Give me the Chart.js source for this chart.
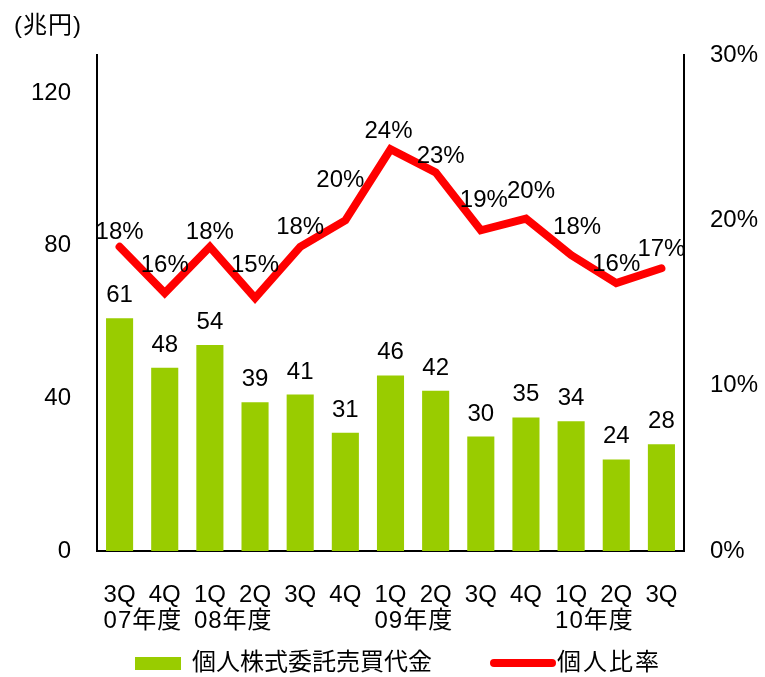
<!DOCTYPE html>
<html>
<head>
<meta charset="utf-8">
<script src="https://cdn.jsdelivr.net/npm/chart.js@4.4.1/dist/chart.umd.min.js"></script>
<style>
  html, body { margin: 0; padding: 0; background: #fff; }
  #wrap { width: 765px; height: 677px; }
</style>
</head>
<body>
<div id="wrap"><canvas id="chart"></canvas></div>
<script>
const quarters = ['3Q', '4Q', '1Q', '2Q', '3Q', '4Q', '1Q', '2Q', '3Q', '4Q', '1Q', '2Q', '3Q'];
const fiscalYears = ['07年度', '', '08年度', '', '', '', '09年度', '', '', '', '10年度', '', ''];
const tradingValue = [61, 48, 54, 39, 41, 31, 46, 42, 30, 35, 34, 24, 28];
const individualRatio = [18.4, 15.6, 18.4, 15.3, 18.4, 20.0, 24.3, 22.9, 19.4, 20.1, 17.9, 16.2, 17.1];
const leftTicks = [0, 40, 80, 120];
const rightTicks = [0, 10, 20, 30];
const unitLabel = '(兆円)';

// label nudges for the ratio line (px), just layout
const ratioLabelShift = [[0, -8], [0, -21], [0, -8], [0, -26], [0, -13], [-5, -33], [-2, -11],
  [5, -9], [3, -23], [5, -21], [6, -21], [0, -12], [0, -12]];

const FONT = '"Liberation Sans", "Noto Sans CJK JP", sans-serif';
const FS = 24;
const GREEN = '#99CC00';
const RED = '#FF0000';

Chart.defaults.font.family = FONT;
Chart.defaults.font.size = FS;
Chart.defaults.color = '#000';

const extras = {
  id: 'extras',
  afterDatasetsDraw(chart) {
    const ctx = chart.ctx;
    ctx.save();
    ctx.fillStyle = '#000';
    ctx.font = FS + 'px ' + FONT;
    ctx.textAlign = 'center';
    ctx.textBaseline = 'alphabetic';

    // bar values
    chart.getDatasetMeta(0).data.forEach((bar, i) => {
      ctx.fillText(String(tradingValue[i]), bar.x, bar.y - 16);
    });
    // ratio values
    chart.getDatasetMeta(1).data.forEach((pt, i) => {
      const s = ratioLabelShift[i];
      ctx.fillText(Math.round(individualRatio[i]) + '%', pt.x + s[0], pt.y + s[1]);
    });
    ctx.restore();
  },
  afterDraw(chart) {
    const ctx = chart.ctx;
    const x = chart.scales.x;
    ctx.save();
    ctx.fillStyle = '#000';
    ctx.font = FS + 'px ' + FONT;

    // unit label
    ctx.textAlign = 'left';
    ctx.textBaseline = 'middle';
    ctx.letterSpacing = '1px';
    ctx.fillText(unitLabel, 14, 26);

    // fiscal year line under the quarters, left aligned with the quarter text
    const lh = FS * 1.2;
    const qy = x.top + x.options.ticks.padding + lh / 2;
    fiscalYears.forEach((yr, i) => {
      if (!yr) return;
      ctx.letterSpacing = '0px';
      const qw = ctx.measureText(quarters[i]).width;
      ctx.letterSpacing = '1px';
      ctx.fillText(yr, x.getPixelForValue(i) - qw / 2, qy + 26);
    });

    // legend
    const ly = 663;
    let lx = 135;
    ctx.letterSpacing = '0px';
    ctx.fillStyle = GREEN;
    ctx.fillRect(lx, ly - 6, 46, 13);
    lx += 46 + 11;
    ctx.fillStyle = '#000';
    const t1 = chart.data.datasets[0].label;
    ctx.fillText(t1, lx, ly);
    lx += ctx.measureText(t1).width + 62;
    ctx.strokeStyle = RED;
    ctx.lineWidth = 8;
    ctx.lineCap = 'round';
    ctx.beginPath();
    ctx.moveTo(lx, ly);
    ctx.lineTo(lx + 58, ly);
    ctx.stroke();
    lx += 58 + 5;
    ctx.letterSpacing = '2px';
    ctx.fillText(chart.data.datasets[1].label, lx, ly);
    ctx.restore();
  }
};

new Chart(document.getElementById('chart'), {
  data: {
    labels: quarters,
    datasets: [
      {
        type: 'bar',
        label: '個人株式委託売買代金',
        data: tradingValue,
        backgroundColor: GREEN,
        borderWidth: 0,
        barPercentage: 0.6,
        categoryPercentage: 1.0,
        yAxisID: 'y',
        order: 1
      },
      {
        type: 'line',
        label: '個人比率',
        data: individualRatio,
        borderColor: RED,
        backgroundColor: RED,
        borderWidth: 8,
        borderCapStyle: 'round',
        borderJoinStyle: 'miter',
        pointRadius: 0,
        tension: 0,
        yAxisID: 'y1',
        order: 0
      }
    ]
  },
  options: {
    responsive: true,
    maintainAspectRatio: false,
    animation: false,
    layout: { padding: { top: 55, bottom: 46, left: 0, right: 0 } },
    plugins: {
      legend: { display: false },
      tooltip: { enabled: false }
    },
    scales: {
      x: {
        grid: { display: false, drawTicks: false },
        border: { display: true, color: '#000', width: 2 },
        ticks: { padding: 30, maxRotation: 0, autoSkip: false },
        afterFit(axis) { axis.height = 80; }
      },
      y: {
        position: 'left',
        min: 0,
        max: 130,
        grid: { display: false, drawTicks: false },
        border: { display: true, color: '#000', width: 2 },
        ticks: { padding: 26 },
        afterBuildTicks(axis) { axis.ticks = leftTicks.map(v => ({ value: v })); },
        afterFit(axis) { axis.width = 97; }
      },
      y1: {
        position: 'right',
        min: 0,
        max: 30,
        grid: { display: false, drawTicks: false },
        border: { display: true, color: '#000', width: 2 },
        ticks: { padding: 26, callback: v => v + '%' },
        afterBuildTicks(axis) { axis.ticks = rightTicks.map(v => ({ value: v })); },
        afterFit(axis) { axis.width = 81; }
      }
    }
  },
  plugins: [extras]
});
</script>
</body>
</html>
